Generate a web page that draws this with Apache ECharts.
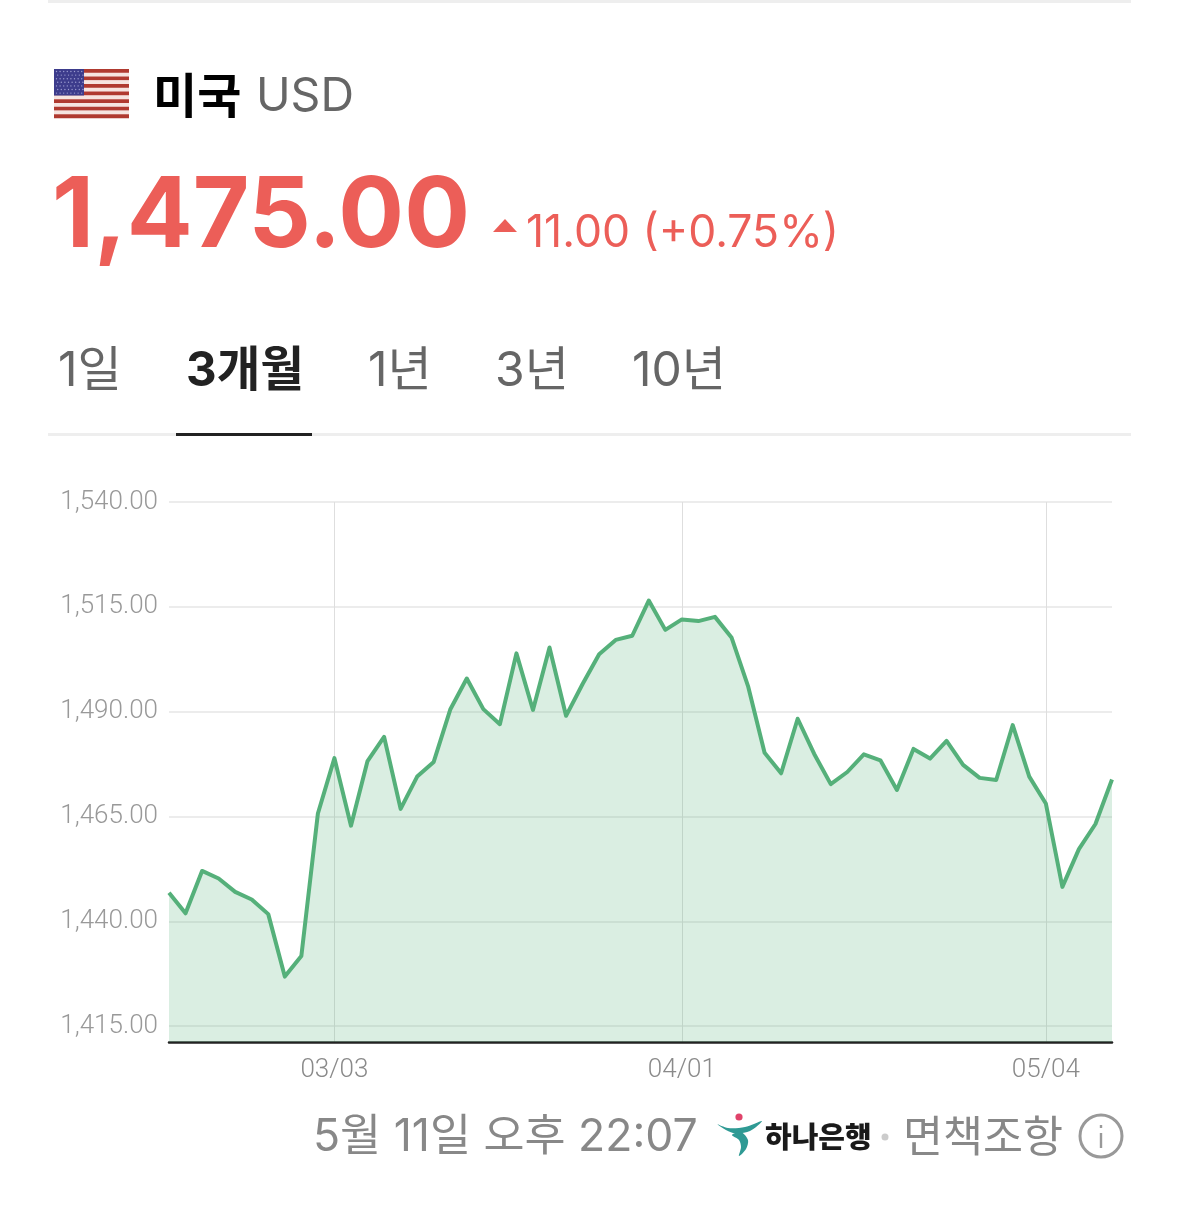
<!DOCTYPE html>
<html lang="ko"><head><meta charset="utf-8">
<style>html,body{margin:0;padding:0;background:#fff}#c{width:1179px;height:1221px}</style>
<script src="https://cdn.jsdelivr.net/npm/echarts@6/dist/echarts.min.js"></script></head>
<body><div id="c"></div>
<script>
const dates = ['02/17','02/18','02/19','02/20','02/23','02/24','02/25','02/26','02/27','03/02','03/03','03/04','03/05','03/06','03/09','03/10','03/11','03/12','03/13','03/16','03/17','03/18','03/19','03/20','03/23','03/24','03/25','03/26','03/27','03/30','03/31','04/01','04/02','04/03','04/06','04/07','04/08','04/09','04/10','04/13','04/14','04/15','04/16','04/17','04/20','04/21','04/22','04/23','04/24','04/27','04/28','04/29','04/30','05/04','05/05','05/06','05/07','05/08'];
const rates = [1446.8,1441.9,1452.0,1450.2,1447.0,1445.2,1441.7,1426.8,1431.7,1465.7,1478.9,1462.8,1478.2,1484.0,1466.8,1474.5,1478.0,1490.5,1497.9,1490.6,1487.0,1503.9,1490.4,1505.3,1489.0,1496.6,1503.7,1507.1,1508.1,1516.5,1509.5,1512.0,1511.6,1512.6,1507.7,1496.1,1480.2,1475.3,1488.3,1479.9,1472.7,1475.6,1479.8,1478.4,1471.3,1481.1,1478.8,1483.0,1477.3,1474.2,1473.7,1486.8,1474.5,1468.1,1448.2,1457.2,1463.2,1473.8];
const xLabels = ['03/03','04/01','05/04'];
const yTicks = [1415,1440,1465,1490,1515,1540];
const tabs = ['1일','3개월','1년','3년','10년'];

const SANS = 'Inter, "Noto Sans CJK KR", sans-serif';
const KR = '"Noto Sans CJK KR", sans-serif';
const txt = (text,x,y,size,color,weight,font,align) => ({type:'text',x,y,silent:true,style:{text,fontSize:size,fill:color,fontWeight:weight||400,fontFamily:font||SANS,align:align||'left',verticalAlign:'middle'}});
const rect = (x,y,w,h,fill,op) => ({type:'rect',silent:true,shape:{x,y,width:w,height:h},style:{fill,opacity:op==null?1:op}});

const g = [];
g.push(rect(48,0,1083,3,'#eeeeee'));
g.push(rect(48,433,1083,3,'#eeeeee'));
g.push(rect(176,433,136,3,'#222222'));
// flag
for(let i=0;i<13;i++) g.push(rect(54,69+i*49/13,75,49/13+0.2,i%2?'#f6e4e0':'#b03a30'));
g.push(rect(54,69,30,26.5,'#3d3c8c'));
for(let r=0;r<7;r++)for(let c=0;c<8;c++)g.push({type:'circle',silent:true,shape:{cx:56.5+c*3.6+(r%2?1.2:0),cy:71.5+r*3.6,r:0.7},style:{fill:'#9c9cd0'}});
g.push(txt('미국',153,95,48,'#000000',700,KR));
g.push(txt('USD',256,97,46.5,'#666666',400));
g.push(txt('1,475.00',52,218,97.6,'#ec5e58',700));
g.push({type:'polygon',silent:true,shape:{points:[[505,219],[517,232],[493,232]]},style:{fill:'#ec5e58'}});
g.push(txt('11.00 (+0.75%)',526,234,44.5,'#ec5e58',400));
// tabs
[[58,'#666666',400,48],[186,'#222222',700,47.5],[368,'#666666',400,48],[495,'#666666',400,48],[632,'#666666',400,48]].forEach((t,i)=>g.push(txt(tabs[i],t[0],372,t[3],t[1],t[2])));
// footer
g.push(txt('5월 11일 오후 22:07',313,1138,44.6,'#888888',400));
g.push({type:'polygon',silent:true,shape:{smooth:0.3,points:[[717,1124],[728,1128],[745,1127],[762,1121],[750,1131],[733,1133]]},style:{fill:'#2f9a94'}});
g.push({type:'polygon',silent:true,shape:{smooth:0.3,points:[[732,1135],[741,1132],[748,1140],[746,1149],[739,1156],[741,1147],[739,1140]]},style:{fill:'#2f9a94'}});
g.push({type:'circle',silent:true,shape:{cx:739,cy:1117,r:3.6},style:{fill:'#e0436a'}});
g.push(txt('하나은행',765,1137,29,'#1a1a1a',900,KR));
g.push({type:'circle',silent:true,shape:{cx:885,cy:1137,r:3.5},style:{fill:'#cccccc'}});
g.push(txt('면책조항',903,1135,43.5,'#888888',400,KR));
g.push({type:'circle',silent:true,shape:{cx:1101,cy:1136,r:21},style:{fill:'none',stroke:'#999999',lineWidth:3}});
g.push(rect(1099.8,1133,2.4,15,'#999999'));
g.push(rect(1099.8,1125,2.4,3,'#999999'));

const chart = echarts.init(document.getElementById('c'),null,{renderer:'canvas'});
chart.setOption({
  animation:false,
  backgroundColor:'#ffffff',
  graphic:{elements:g},
  grid:{left:169,right:67,top:502,bottom:179},
  xAxis:{type:'category',data:dates,boundaryGap:false,
    axisLine:{onZero:false,lineStyle:{color:'#222222',width:2.5}},
    axisTick:{show:false},
    axisLabel:{color:'#8a8a8a',fontSize:26,fontFamily:'Roboto',fontWeight:300,margin:15,hideOverlap:false,
      interval:(i,v)=>xLabels.includes(v)},
    splitLine:{show:true,lineStyle:{color:'#dedede',width:1},interval:(i,v)=>xLabels.includes(v)}},
  yAxis:{type:'value',min:1411.2,max:1540,
    axisLine:{show:false},axisTick:{show:false,customValues:yTicks},
    axisLabel:{customValues:yTicks,color:'#999999',fontSize:26,fontFamily:'Roboto',fontWeight:300,margin:11,padding:[0,0,7,0],
      formatter:v=>v.toLocaleString('en-US',{minimumFractionDigits:2,maximumFractionDigits:2})},
    splitLine:{show:true,lineStyle:{color:'#e6e6e6',width:1.5}}},
  series:[{type:'line',data:rates,symbol:'none',showSymbol:false,smooth:false,
    lineStyle:{color:'#55b07a',width:4,join:'round'},
    areaStyle:{color:'#55b07a',opacity:0.22},z:2}]
});
</script></body></html>
